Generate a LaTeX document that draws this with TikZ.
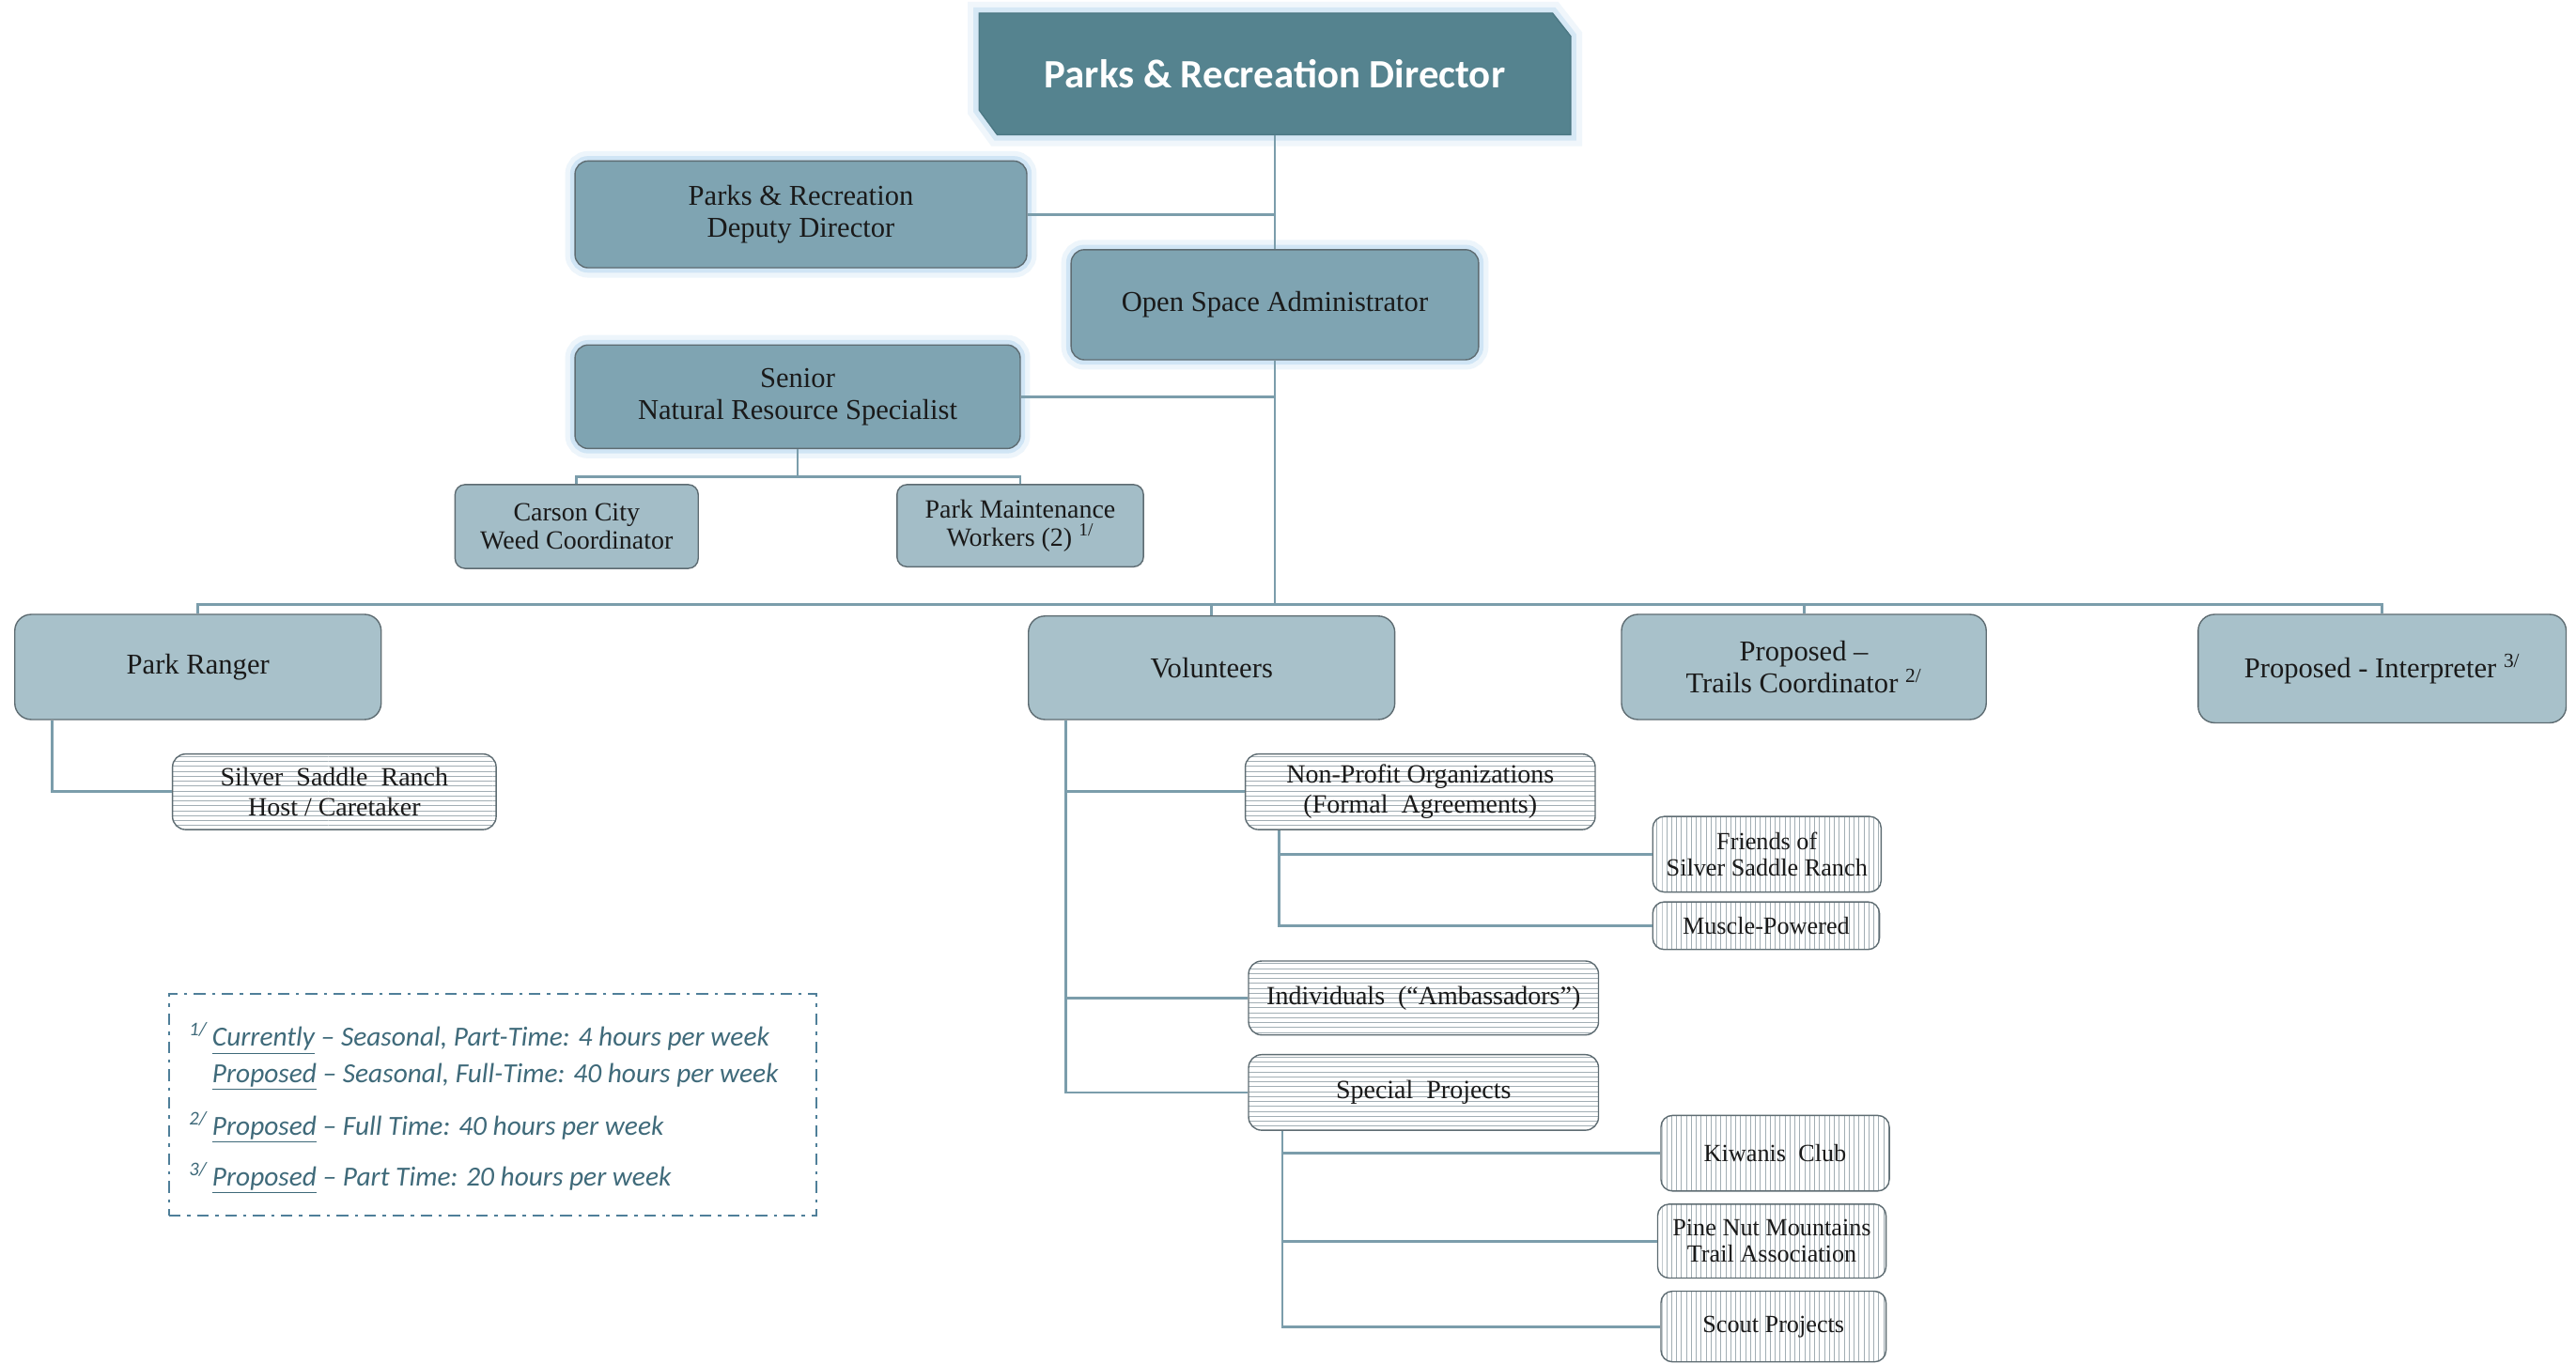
\documentclass[tikz,border=0pt]{standalone}
\usepackage{fontspec}
\setmainfont{Liberation Serif}
\newfontfamily\calib{Carlito}
\usetikzlibrary{patterns}
\definecolor{dirfill}{HTML}{55838F}
\definecolor{dirborder}{HTML}{4C7884}
\definecolor{ltwofill}{HTML}{7FA4B2}
\definecolor{lthreefill}{HTML}{A8C1CA}
\definecolor{smfill}{HTML}{A3BDC7}
\definecolor{bordc}{HTML}{5E6C72}
\definecolor{glowc}{HTML}{9CC8EA}
\definecolor{hatchc}{HTML}{A2AEB4}
\definecolor{connc}{HTML}{7B9DAB}
\definecolor{textc}{HTML}{1A1A1A}
\definecolor{legc}{HTML}{4F7F99}
\definecolor{legtext}{HTML}{3F6A7A}
\begin{document}
\begin{tikzpicture}[x=1pt,y=-1pt,
  box/.style={rectangle, rounded corners=8pt, draw=bordc, line width=0.8pt, align=center, text=textc, inner sep=2pt, font=\fontsize{17.5}{19.5}\selectfont},
  glow/.style={preaction={draw=glowc, line width=12pt, draw opacity=0.18}, preaction={draw=glowc, line width=6pt, draw opacity=0.35}},
  ltwo/.style={box, glow, fill=ltwofill},
  lthree/.style={box, fill=lthreefill, rounded corners=10pt},
  smbox/.style={box, fill=smfill, rounded corners=6pt, font=\fontsize{16}{17}\selectfont},
  hbox/.style={box, preaction={fill=white}, pattern=horizontal lines, pattern color=hatchc, rounded corners=8pt, font=\fontsize{16}{18}\selectfont},
  vbox/.style={box, preaction={fill=white}, pattern=vertical lines, pattern color=hatchc, rounded corners=7pt, font=\fontsize{15}{16}\selectfont},
  conn/.style={draw=connc, line width=1.6pt},
  legline/.style={anchor=base west, text=legtext, inner sep=0pt, font=\calib\itshape\fontsize{16.8}{20}\selectfont}
]
\useasboundingbox (0,0) rectangle (1568,830);
\fill[white] (0,0) rectangle (1568,830);

% Director (chamfered)
\path[fill=dirfill, draw=dirborder, line width=0.8pt,
  preaction={draw=glowc, line width=14pt, draw opacity=0.15},
  preaction={draw=glowc, line width=7pt, draw opacity=0.3}]
  (596,8) -- (945,8) -- (956,22) -- (956,82) -- (607,82) -- (596,67) -- cycle;
\node[text=white, font=\calib\bfseries\fontsize{24.5}{28}\selectfont, minimum width=360, minimum height=74] (dir) at (776,45) {Parks \& Recreation Director};

% Level 2
\node[ltwo, minimum width=275, minimum height=65] (dep) at (487.5,130.5) {Parks \& Recreation\\Deputy Director};
\node[ltwo, minimum width=248, minimum height=67] (osa) at (776,185.5) {Open Space Administrator};
\node[ltwo, minimum width=271, minimum height=63] (sen) at (485.5,241.5) {Senior\\Natural Resource Specialist};

\node[smbox, minimum width=148, minimum height=51] (cw) at (351,320.5) {Carson City\\Weed Coordinator};
\node[smbox, minimum width=150, minimum height=50] (pmw) at (621,320) {Park Maintenance\\Workers (2) \textsuperscript{1/}};

% Level 3
\node[lthree, minimum width=223, minimum height=64] (pr) at (120.5,406) {Park Ranger};
\node[lthree, minimum width=223, minimum height=63] (vol) at (737.5,406.5) {Volunteers};
\node[lthree, minimum width=222, minimum height=64] (tc) at (1098,406) {Proposed –\\Trails Coordinator \textsuperscript{2/}};
\node[lthree, minimum width=224, minimum height=66] (int) at (1450,407) {Proposed - Interpreter \textsuperscript{3/}};

% Hatched boxes
\node[hbox, minimum width=197, minimum height=46] (ssr) at (203.5,482) {Silver\ \ Saddle\ \ Ranch\\Host / Caretaker};
\node[hbox, minimum width=213, minimum height=46] (npo) at (864.5,482) {Non-Profit Organizations\\(Formal\ \ Agreements)};
\node[hbox, minimum width=213, minimum height=45] (ind) at (866.5,607.5) {Individuals\ \ (“Ambassadors”)};
\node[hbox, minimum width=213, minimum height=46] (spj) at (866.5,665) {Special\ \ Projects};

\node[vbox, minimum width=139, minimum height=46] (fr) at (1075.5,520) {Friends of\\Silver Saddle Ranch};
\node[vbox, minimum width=138, minimum height=29] (mp) at (1075,563.5) {Muscle-Powered};
\node[vbox, minimum width=139, minimum height=46] (kw) at (1080.5,702) {Kiwanis\ \ Club};
\node[vbox, minimum width=139, minimum height=45] (pn) at (1078.5,755.5) {Pine Nut Mountains\\Trail Association};
\node[vbox, minimum width=137, minimum height=43] (sc) at (1079.5,807.5) {Scout Projects};

% Connectors
\coordinate (bus) at (776,368);
\coordinate (sj) at (485.5,290);
\draw[conn] (dir.south) -- (osa.north);
\draw[conn] (osa.south) -- (bus);
\draw[conn] (dep.east) -- (dep.east -| dir.south);
\draw[conn] (sen.east) -- (sen.east -| osa.south);
\draw[conn] (sen.south) -- (sj);
\draw[conn] (cw.north) |- (sj);
\draw[conn] (pmw.north) |- (sj);
\draw[conn] (pr.north) |- (bus);
\draw[conn] (vol.north) |- (bus);
\draw[conn] (tc.north) |- (bus);
\draw[conn] (int.north) |- (bus);
\draw[conn] ([xshift=23pt]pr.south west) |- (ssr.west);
\draw[conn] ([xshift=23pt]vol.south west) |- (npo.west);
\draw[conn] ([xshift=23pt]vol.south west) |- (ind.west);
\draw[conn] ([xshift=23pt]vol.south west) |- (spj.west);
\draw[conn] ([xshift=21pt]npo.south west) |- (fr.west);
\draw[conn] ([xshift=21pt]npo.south west) |- (mp.west);
\draw[conn] ([xshift=21pt]spj.south west) |- (kw.west);
\draw[conn] ([xshift=21pt]spj.south west) |- (pn.west);
\draw[conn] ([xshift=21pt]spj.south west) |- (sc.west);

% Legend
\node[draw=legc, line width=1.4pt, dash pattern=on 7pt off 4pt on 2pt off 4pt, minimum width=394, minimum height=135, inner sep=0pt] (leg) at (300,672.5) {};
\node[legline] (l1) at (129,637) {\llap{\textsuperscript{1/}\hspace{3pt}}\underline{Currently} – Seasonal, Part-Time: 4 hours per week};
\node[legline] (l2) at (129,659) {\underline{Proposed} – Seasonal, Full-Time: 40 hours per week};
\node[legline] (l3) at (129,691) {\llap{\textsuperscript{2/}\hspace{3pt}}\underline{Proposed} – Full Time: 40 hours per week};
\node[legline] (l4) at (129,722) {\llap{\textsuperscript{3/}\hspace{3pt}}\underline{Proposed} – Part Time: 20 hours per week};
\end{tikzpicture}
\end{document}
